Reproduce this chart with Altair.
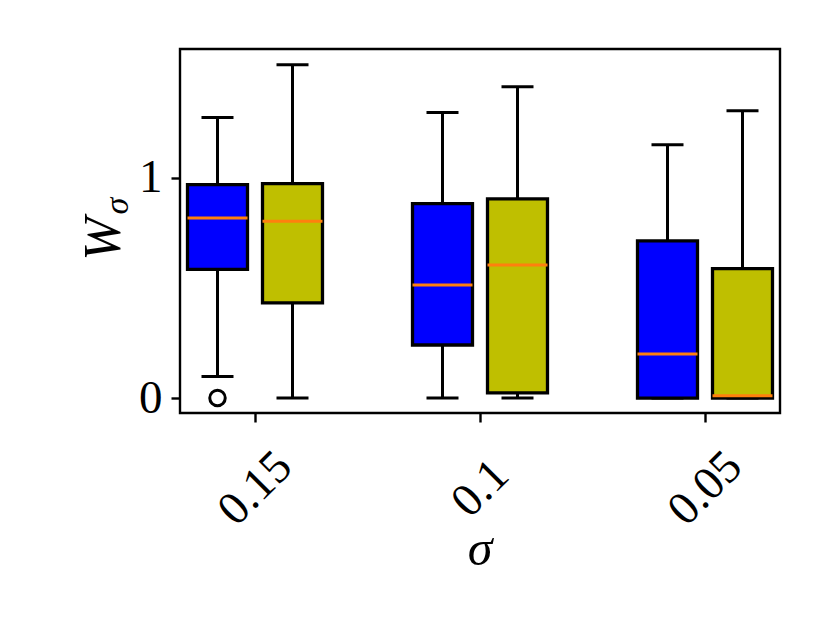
import json
import altair as alt
import pandas as pd

# ---- data ----
sigma_labels = ["0.15", "0.1", "0.05"]
series_names = ["A", "B"]
series_colors = ["#0000ff", "#bfbf00"]

blue_hi = [1.275, 1.298, 1.151]
blue_q3 = [0.970, 0.883, 0.714]
blue_med = [0.818, 0.514, 0.200]
blue_q1 = [0.585, 0.241, 0.000]
blue_lo = [0.098, 0.000, 0.000]

yel_hi = [1.514, 1.415, 1.305]
yel_q3 = [0.974, 0.905, 0.588]
yel_med = [0.803, 0.605, 0.010]
yel_q1 = [0.432, 0.023, 0.000]
yel_lo = [0.000, 0.000, 0.000]

outlier_group = [0]
outlier_series = ["A"]
outlier_values = [0.0]

# ---- build table ----
OFFSET = 1 / 6
HALF = 0.1333
CAP = 0.0711
stats = {
    "A": (blue_lo, blue_q1, blue_med, blue_q3, blue_hi),
    "B": (yel_lo, yel_q1, yel_med, yel_q3, yel_hi),
}
rows = []
for g in range(len(sigma_labels)):
    for k, s in enumerate(series_names):
        lo, q1, med, q3, hi = (a[g] for a in stats[s])
        xc = g + 1 + (-OFFSET if k == 0 else OFFSET)
        rows.append(dict(series=s, xc=xc, xl=xc - HALF, xr=xc + HALF,
                         cl=xc - CAP, cr=xc + CAP,
                         lo=lo, q1=q1, med=med, q3=q3, hi=hi))
df = pd.DataFrame(rows)

out_rows = []
for g, s, v in zip(outlier_group, outlier_series, outlier_values):
    k = series_names.index(s)
    out_rows.append(dict(xc=g + 1 + (-OFFSET if k == 0 else OFFSET), v=v))
df_out = pd.DataFrame(out_rows)

FONT = "Liberation Serif"
LW = 3.0
xscale = alt.Scale(domain=[2 / 3, 10 / 3], nice=False, zero=False)
yscale = alt.Scale(domain=[-0.068, 1.586], nice=False, zero=False)
label_expr = json.dumps(sigma_labels) + "[datum.value - 1]"
xaxis = alt.Axis(values=[1, 2, 3], labelExpr=label_expr, title="", grid=False,
                 domain=False, tickSize=9, tickWidth=2.4, tickColor="black",
                 labelAngle=315, labelAlign="center", labelBaseline="middle",
                 labelPadding=66, labelFontSize=47, labelFont=FONT,
                 labelColor="black")
yaxis = alt.Axis(values=[0, 1], format="d", title="", grid=False, domain=False,
                 tickSize=9, tickWidth=2.4, tickColor="black", labelPadding=9,
                 labelFontSize=47, labelFont=FONT, labelColor="black")

def X(field):
    return alt.X(f"{field}:Q", scale=xscale, axis=xaxis)

def Y(field):
    return alt.Y(f"{field}:Q", scale=yscale, axis=yaxis)

base = alt.Chart(df)

whisk_lo = base.mark_rule(color="black", strokeWidth=LW).encode(
    x=X("xc"), y=Y("lo"), y2="q1:Q")
whisk_hi = base.mark_rule(color="black", strokeWidth=LW).encode(
    x=X("xc"), y=Y("q3"), y2="hi:Q")
cap_lo = base.mark_rule(color="black", strokeWidth=LW).encode(
    x=X("cl"), x2="cr:Q", y=Y("lo"))
cap_hi = base.mark_rule(color="black", strokeWidth=LW).encode(
    x=X("cl"), x2="cr:Q", y=Y("hi"))
boxes = base.mark_bar(stroke="black", strokeWidth=LW + 0.3, opacity=1).encode(
    x=X("xl"), x2="xr:Q", y=Y("q1"), y2="q3:Q",
    fill=alt.Fill("series:N", scale=alt.Scale(domain=series_names, range=series_colors),
                  legend=None))
medians = base.mark_rule(color="#ff7f0e", strokeWidth=LW).encode(
    x=X("xl"), x2="xr:Q", y=Y("med"))
outliers = alt.Chart(df_out).mark_point(shape="circle", filled=False, color="black",
                                        strokeWidth=LW, size=240, opacity=1).encode(
    x=X("xc"), y=Y("v"))

one = alt.Data(values=[{"a": 1}])
ytitle_w = alt.Chart(one).mark_text(text="W", font=FONT, fontSize=52, fontStyle="italic",
                                    angle=270, align="center", baseline="middle",
                                    color="black").encode(
    x=alt.value(-76), y=alt.value(190))
ytitle_s = alt.Chart(one).mark_text(text="σ", font=FONT, fontSize=34, fontStyle="italic",
                                    angle=270, align="center", baseline="middle",
                                    color="black").encode(
    x=alt.value(-62), y=alt.value(157))
xtitle = alt.Chart(one).mark_text(text="σ", font=FONT, fontSize=50, fontStyle="italic",
                                  align="center", baseline="middle",
                                  color="black").encode(
    x=alt.value(300), y=alt.value(501))

chart = alt.layer(whisk_lo, whisk_hi, cap_lo, cap_hi, boxes, medians, outliers,
                  ytitle_w, ytitle_s, xtitle).properties(
    width=600, height=364,
    padding={"left": 172, "top": 41, "right": 40, "bottom": 180},
    autosize=alt.AutoSizeParams(type="none"),
    background="white",
).configure_view(stroke="black", strokeWidth=2.4)

chart.save("out.html", embed_options={"renderer": "svg", "actions": False})
